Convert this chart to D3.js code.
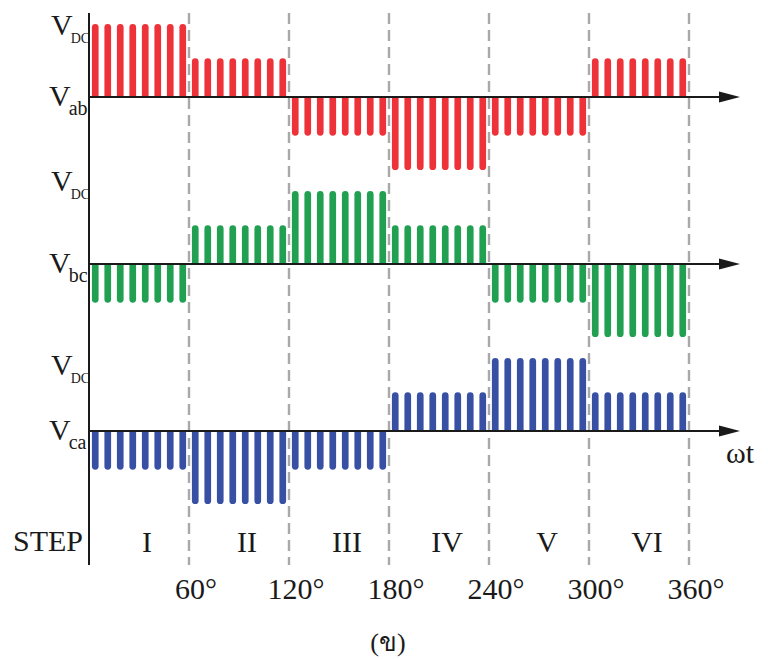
<!DOCTYPE html>
<html>
<head>
<meta charset="utf-8">
<script src="https://cdn.jsdelivr.net/npm/d3@7"></script>
<style>
  html, body { margin: 0; padding: 0; background: #fff; }
  svg { display: block; }
  text { font-family: "Liberation Serif", "Times New Roman", serif; fill: #1a1a1a; }
</style>
</head>
<body>
<svg id="chart" width="768" height="659"></svg>
<script>
// Six-step line-to-line voltages, PWM chopped, one value per 60° step (fraction of V_DC)
const degreeTicks = [0, 60, 120, 180, 240, 300, 360];
const degreeLabels = ["60°", "120°", "180°", "240°", "300°", "360°"];
const stepNames = ["I", "II", "III", "IV", "V", "VI"];
const pulsesPerStep = 8;
const seriesNames = ["ab", "bc", "ca"];
const vab = [1, 0.53, -0.53, -1, -0.53, 0.53];
const vbc = [-0.53, 0.53, 1, 0.53, -0.53, -1];
const vca = [-0.53, -1, -0.53, 0.53, 1, 0.53];
const seriesColors = ["#ee3239", "#22a052", "#3850a4"];

const series = [vab, vbc, vca];

const svg = d3.select("#chart");

// layout
const x0 = 89, x1 = 689;
const axisTop = 13, axisBottom = 565;
const rowAxisY = [97, 264, 431];
const fullLevel = 73;            // pixel height of V_DC
const dcLabelOffset = [62, 73, 56];

const x = d3.scaleLinear().domain([0, 360]).range([x0, x1]);

const nPulses = stepNames.length * pulsesPerStep;
const band = d3.scaleBand()
  .domain(d3.range(nPulses))
  .range([x0, x1])
  .paddingInner(0.465)
  .paddingOuter(0.2325);

// step boundaries (dashed)
svg.append("g")
  .selectAll("line")
  .data(degreeTicks.slice(1))
  .join("line")
  .attr("x1", d => x(d)).attr("x2", d => x(d))
  .attr("y1", axisTop).attr("y2", axisBottom)
  .attr("stroke", "#a9a9a9")
  .attr("stroke-width", 2.4)
  .attr("stroke-dasharray", "11,6");

// pulse bars with rounded outer ends
function barPath(xl, w, yBase, yEnd) {
  const r = w / 2;
  const xr = xl + w;
  if (yEnd < yBase) {
    return `M${xl},${yBase}L${xl},${yEnd + r}A${r},${r} 0 0 1 ${xr},${yEnd + r}L${xr},${yBase}Z`;
  } else {
    return `M${xl},${yBase}L${xl},${yEnd - r}A${r},${r} 0 0 0 ${xr},${yEnd - r}L${xr},${yBase}Z`;
  }
}

series.forEach((vals, k) => {
  const ay = rowAxisY[k];
  const y = d3.scaleLinear().domain([-1, 1]).range([ay + fullLevel, ay - fullLevel]);
  const pulses = d3.range(nPulses).map(i => ({ i, v: vals[Math.floor(i / pulsesPerStep)] }));
  svg.append("g")
    .selectAll("path")
    .data(pulses)
    .join("path")
    .attr("d", d => barPath(band(d.i), band.bandwidth(), y(0), y(d.v)))
    .attr("fill", seriesColors[k]);
});

// horizontal axes with arrows
rowAxisY.forEach(ay => {
  svg.append("line")
    .attr("x1", x0).attr("x2", 722)
    .attr("y1", ay).attr("y2", ay)
    .attr("stroke", "#1a1a1a").attr("stroke-width", 2);
  svg.append("path")
    .attr("d", `M719,${ay - 5.5}L740,${ay}L719,${ay + 5.5}Z`)
    .attr("fill", "#1a1a1a");
});

// vertical axis
svg.append("line")
  .attr("x1", x0).attr("x2", x0)
  .attr("y1", axisTop).attr("y2", axisBottom)
  .attr("stroke", "#1a1a1a").attr("stroke-width", 2);

// row labels: V_DC above, V_xx at the axis
seriesNames.forEach((name, k) => {
  const ay = rowAxisY[k];
  const dc = svg.append("text").attr("x", 51).attr("y", ay - dcLabelOffset[k])
    .attr("font-size", 30);
  dc.append("tspan").text("V");
  dc.append("tspan").attr("dx", -2).attr("dy", 8).attr("font-size", 14).text("DC");

  const vl = svg.append("text").attr("x", 49).attr("y", ay + 9)
    .attr("font-size", 30);
  vl.append("tspan").text("V");
  vl.append("tspan").attr("dx", -2).attr("dy", 9).attr("font-size", 20).text(name);
});

// ωt
svg.append("text").attr("x", 726).attr("y", 463)
  .attr("font-size", 30).text("ωt");

// step row
svg.append("text").attr("x", 13).attr("y", 551)
  .attr("font-size", 30).text("STEP");

svg.append("g")
  .selectAll("text")
  .data(stepNames)
  .join("text")
  .attr("x", (d, i) => x(60 * i + 30) + 8)
  .attr("y", 552)
  .attr("text-anchor", "middle")
  .attr("font-size", 30)
  .text(d => d);

// degree labels
svg.append("g")
  .selectAll("text")
  .data(degreeLabels)
  .join("text")
  .attr("x", (d, i) => x(degreeTicks[i + 1]) + 7)
  .attr("y", 599)
  .attr("text-anchor", "middle")
  .attr("font-size", 30)
  .text(d => d);

// caption
svg.append("text").attr("x", 388).attr("y", 651)
  .attr("text-anchor", "middle")
  .attr("font-size", 26).text("(ข)");
</script>
</body>
</html>
